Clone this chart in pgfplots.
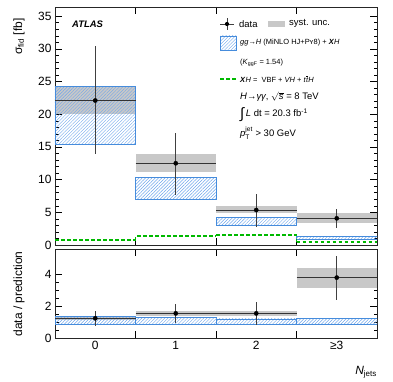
\documentclass[border=0pt]{standalone}
\usepackage{fontspec}
\setmainfont{Liberation Sans}
\usepackage{amsmath}
\usepackage{pgfplots}
\pgfplotsset{compat=1.18}
\usetikzlibrary{patterns.meta}

\definecolor{hatchblue}{RGB}{110,165,235}
\definecolor{edgeblue}{RGB}{70,140,220}
\definecolor{syst}{RGB}{200,200,200}
\definecolor{xhgreen}{RGB}{0,185,0}

\pgfplotsset{
  atlas/.style={
    scale only axis, width=322bp, anchor=south west,
    xmin=-0.5, xmax=3.5,
    xtick={0.5,1.5,2.5},
    tick pos=both, tick align=inside,
    major tick length=7bp, minor tick length=3.5bp,
    tick style={black, line width=0.5pt},
    axis line style={black!85, line width=0.8pt},
    tick label style={font=\fontsize{12}{14}\selectfont},
    /pgf/number format/assume math mode=true,
  },
  pred/.style={pattern={Lines[angle=45, distance=2.3bp, line width=0.45bp]},
    pattern color=hatchblue, draw=edgeblue, line width=0.7pt},
  band/.style={fill=syst, draw=none},
  dline/.style={black!80, line width=0.7pt},
  xh/.style={draw=xhgreen, dash pattern=on 3.5bp off 2.5bp, line width=1.8bp},
  dpts/.style={only marks, mark=*, mark size=2.1bp, black,
    error bars/.cd, y dir=both, y explicit,
    error bar style={black!75, line width=0.7pt}, error mark=none},
}

\begin{document}
\begin{tikzpicture}
\useasboundingbox (0,0) rectangle (393bp,382bp);

% upper panel: cross sections
\begin{axis}[atlas, at={(55bp,137bp)}, height=238bp,
  ymin=0, ymax=36.4, ytick={0,5,...,35}, minor y tick num=4,
  xticklabels={}]
\addplot[band] coordinates {(-0.5,20.0)(0.5,20.0)(0.5,24.3)(-0.5,24.3)} -- cycle;
\addplot[band] coordinates {(0.5,11.2)(1.5,11.2)(1.5,13.9)(0.5,13.9)} -- cycle;
\addplot[band] coordinates {(1.5,4.85)(2.5,4.85)(2.5,5.96)(1.5,5.96)} -- cycle;
\addplot[band] coordinates {(2.5,3.4)(3.5,3.4)(3.5,4.85)(2.5,4.85)} -- cycle;
\addplot[pred] coordinates {(-0.5,15.4)(0.5,15.4)(0.5,24.3)(-0.5,24.3)} -- cycle;
\addplot[pred] coordinates {(0.5,7.0)(1.5,7.0)(1.5,10.35)(0.5,10.35)} -- cycle;
\addplot[pred] coordinates {(1.5,2.95)(2.5,2.95)(2.5,4.2)(1.5,4.2)} -- cycle;
\addplot[pred] coordinates {(2.5,0.87)(3.5,0.87)(3.5,1.27)(2.5,1.27)} -- cycle;
\addplot[xh] coordinates {(-0.5,0.76)(0.5,0.76)};
\addplot[xh] coordinates {(0.5,0.76)(0.5,1.43)(1.5,1.43)};
\addplot[xh] coordinates {(1.5,1.5)(2.5,1.5)(2.5,0.45)};
\addplot[xh] coordinates {(2.5,0.45)(3.5,0.45)};
\addplot[dline] coordinates {(-0.5,22.1)(0.5,22.1)};
\addplot[dline] coordinates {(0.5,12.5)(1.5,12.5)};
\addplot[dline] coordinates {(1.5,5.35)(2.5,5.35)};
\addplot[dline] coordinates {(2.5,4.08)(3.5,4.08)};
\addplot[dpts] coordinates {
  (0,22.1) += (0,8.3) -= (0,8.2)
  (1,12.5) += (0,4.7) -= (0,4.9)
  (2,5.35) += (0,2.4) -= (0,2.55)
  (3,4.08) += (0,1.47) -= (0,1.43)};
\end{axis}

% lower panel: ratio
\begin{axis}[atlas, at={(55bp,44bp)}, height=89bp,
  ymin=0, ymax=5.6, ytick={0,2,4}, minor y tick num=3,
  xticklabels={},
  extra x ticks={0,1,2,3}, extra x tick labels={0,1,2,≥3},
  extra x tick style={major tick length=0pt}]
\addplot[band] coordinates {(-0.5,1.12)(0.5,1.12)(0.5,1.38)(-0.5,1.38)} -- cycle;
\addplot[band] coordinates {(0.5,1.38)(1.5,1.38)(1.5,1.72)(0.5,1.72)} -- cycle;
\addplot[band] coordinates {(1.5,1.38)(2.5,1.38)(2.5,1.72)(1.5,1.72)} -- cycle;
\addplot[band] coordinates {(2.5,3.12)(3.5,3.12)(3.5,4.38)(2.5,4.38)} -- cycle;
\addplot[pred] coordinates {(-0.5,0.86)(0.5,0.86)(0.5,1.38)(-0.5,1.38)} -- cycle;
\addplot[pred] coordinates {(0.5,0.88)(1.5,0.88)(1.5,1.3)(0.5,1.3)} -- cycle;
\addplot[pred] coordinates {(1.5,0.88)(2.5,0.88)(2.5,1.2)(1.5,1.2)} -- cycle;
\addplot[pred] coordinates {(2.5,0.88)(3.5,0.88)(3.5,1.24)(2.5,1.24)} -- cycle;
\addplot[dline] coordinates {(-0.5,1.24)(0.5,1.24)};
\addplot[dline] coordinates {(0.5,1.55)(1.5,1.55)};
\addplot[dline] coordinates {(1.5,1.55)(2.5,1.55)};
\addplot[dline] coordinates {(2.5,3.8)(3.5,3.8)};
\addplot[dpts] coordinates {
  (0,1.24) += (0,0.46) -= (0,0.47)
  (1,1.55) += (0,0.57) -= (0,0.59)
  (2,1.55) += (0,0.73) -= (0,0.73)
  (3,3.8) += (0,1.36) -= (0,1.4)};
\end{axis}

% axis titles
\node[rotate=90, anchor=east, font=\fontsize{12}{14}\selectfont] at (19bp,367bp)
  {σ\textsubscript{fid} [fb]};
\node[rotate=90, font=\fontsize{12}{14}\selectfont] at (19bp,88bp) {data / prediction};
\node[anchor=south east, font=\fontsize{12}{14}\selectfont, inner sep=0pt] at (377bp,4bp)
  {\textit{N}\textsubscript{jets}};

% label and legend
\node[anchor=west, font=\fontsize{9.5}{11}\selectfont\bfseries\itshape, inner sep=0pt]
  at (72bp,358bp) {ATLAS};
\draw[black!75, line width=0.7pt] (220bp,358bp) -- (234bp,358bp) (227bp,352bp) -- (227bp,364bp);
\fill (227bp,358bp) circle (2.1bp);
\node[anchor=west, font=\fontsize{9.5}{11}\selectfont, inner sep=0pt] at (239bp,358bp) {data};
\fill[syst] (268bp,355bp) rectangle (285bp,361bp);
\node[anchor=west, font=\fontsize{9.5}{11}\selectfont, inner sep=0pt] at (289bp,359bp) {syst. unc.};
\draw[pattern={Lines[angle=45, distance=2.3bp, line width=0.45bp]}, pattern color=hatchblue,
  draw=edgeblue, line width=0.6pt] (220bp,332bp) rectangle (236bp,346bp);
\node[anchor=west, font=\fontsize{7.5}{9}\selectfont, inner sep=0pt] at (240bp,339bp)
  {\textit{gg}→\textit{H} (MiNLO HJ+Pʏ8) + \textbf{\textit{X}}\textit{H}};
\node[anchor=west, font=\fontsize{7.5}{9}\selectfont, inner sep=0pt] at (240bp,319bp)
  {(\textit{K}\textsubscript{ggF} = 1.54)};
\draw[xhgreen, dash pattern=on 3.5bp off 2.5bp, line width=1.8bp] (220bp,303bp) -- (236bp,303bp);
\node[anchor=west, font=\fontsize{7.5}{9}\selectfont, inner sep=0pt] at (240bp,303bp)
  {\textbf{\textit{X}}\textit{H} = \ VBF + \textit{VH} + \textit{t}\kern0.05em$\overline{\textit{t}}$\textit{H}};
\node[anchor=west, font=\fontsize{9.5}{11}\selectfont, inner sep=0pt] at (240bp,285bp)
  {\textit{H}→\textit{γγ}, $\sqrt{\textit{s}}$ = 8 TeV};
\node[anchor=west, font=\fontsize{9.5}{11}\selectfont, inner sep=0pt] at (240bp,267bp)
  {\raisebox{-2pt}{\fontsize{15}{15}\selectfont ∫}\,\textit{L} dt = 20.3 fb\textsuperscript{-1}};
\node[anchor=west, font=\fontsize{9.5}{11}\selectfont, inner sep=0pt] at (240bp,249bp)
  {\textit{p}$^{\text{jet}}_{\text{T}}$ > 30 GeV};
\end{tikzpicture}
\end{document}
